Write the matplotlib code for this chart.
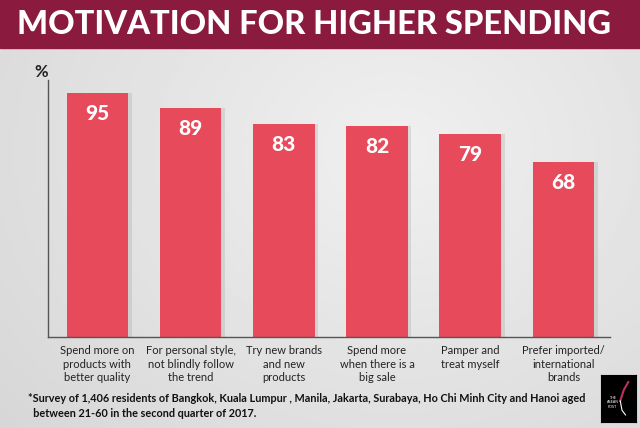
import numpy as np
import matplotlib.pyplot as plt
from matplotlib.patches import Rectangle

# Chart data
categories = ["Spend more on\nproducts with\nbetter quality",
              "For personal style,\nnot blindly follow\nthe trend",
              "Try new brands\nand new\nproducts",
              "Spend more\nwhen there is a\nbig sale",
              "Pamper and\ntreat myself",
              "Prefer imported/\ninternational\nbrands"]
values = [95, 89, 83, 82, 79, 68]

title = "MOTIVATION FOR HIGHER SPENDING"
footnote = ("*Survey of 1,406 residents of Bangkok, Kuala Lumpur , Manila, Jakarta, Surabaya, "
            "Ho Chi Minh City and Hanoi aged\n  between 21-60 in the second quarter of 2017.")

bar_color = "#e64a5b"
banner_color = "#8b1a3f"
font = "Lato"

fig = plt.figure(figsize=(6.4, 4.28), dpi=100)

# background gradient
bg = fig.add_axes([0, 0, 1, 1], zorder=-10)
xx = np.linspace(0, 1, 200)
yy = np.linspace(0, 1, 200)
X, Y = np.meshgrid(xx, yy)
grad = 0.94 - 0.11 * np.sqrt(((X - 0.62) * 1.1) ** 2 + ((Y - 0.65) * 0.9) ** 2)
bg.imshow(grad, cmap="gray", vmin=0, vmax=1, extent=[0, 1, 0, 1], aspect="auto", origin="lower")
bg.add_patch(Rectangle((0, 1 - 48 / 428), 1, 48 / 428, color=banner_color, transform=bg.transAxes))
bg.set_xlim(0, 1)
bg.set_ylim(0, 1)
bg.axis("off")

fig.text(0.491, 1 - 25 / 428, title, color="white", fontsize=23.5, fontweight="black",
         family=font, ha="center", va="center")

ax = fig.add_axes([48 / 640, 91 / 428, 562 / 640, 257 / 428])
ax.patch.set_alpha(0)
x = np.arange(len(values))
# soft shadow
ax.bar(x + 0.04, values, width=0.66, color="#9a9a9a", alpha=0.25, zorder=1)
ax.bar(x, values, width=0.66, color=bar_color, zorder=2)
for xi, v in zip(x, values):
    ax.text(xi, v - 8, str(v), color="white", fontsize=15, fontweight="black",
            family=font, ha="center", va="center", zorder=3)

ax.set_xlim(-0.53, 5.5)
ax.set_ylim(0, 100)
for s in ["top", "right"]:
    ax.spines[s].set_visible(False)
for s in ["left", "bottom"]:
    ax.spines[s].set_color("#555555")
    ax.spines[s].set_linewidth(1)
ax.set_yticks([])
ax.set_xticks(x)
ax.set_xticklabels(categories, fontsize=8, family=font, color="#222222", linespacing=1.25)
ax.tick_params(axis="x", length=0, pad=6)
ax.text(-0.012, 1.0, "%", transform=ax.transAxes, fontsize=12, fontweight="bold",
        family=font, ha="center", va="bottom", color="#222222")

fig.text(28 / 640, 1 - 406 / 428, footnote, fontsize=7.8, fontweight="bold",
         family=font, color="#111111", ha="left", va="center", linespacing=1.35)

# logo box
logo = fig.add_axes([601 / 640, 1 - 422 / 428, 35 / 640, 47 / 428])
logo.set_facecolor("black")
logo.set_xlim(0, 1)
logo.set_ylim(0, 1)
logo.set_xticks([])
logo.set_yticks([])
logo.text(0.33, 0.42, "THE\nASEAN\nPOST", color="white", fontsize=2.5, ha="center", va="center")
logo.plot([0.55, 0.65, 0.78], [0.45, 0.68, 0.85], color="#c0305a", lw=1.5)
logo.plot([0.55, 0.6, 0.7], [0.45, 0.25, 0.15], color="white", lw=0.8)

fig.savefig("out.png", dpi=100)
